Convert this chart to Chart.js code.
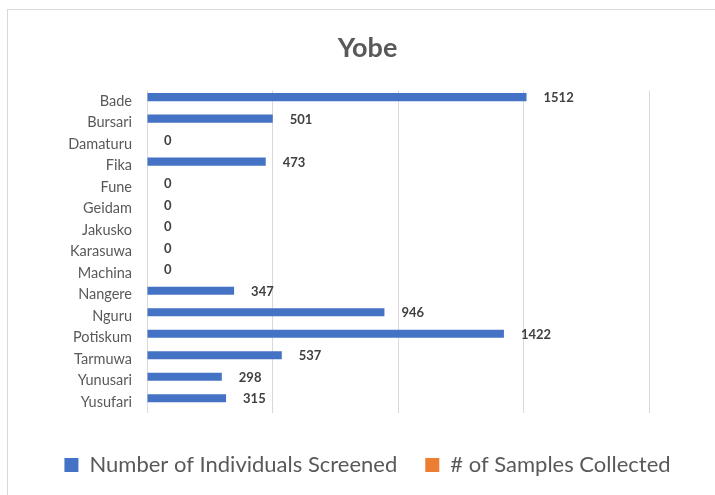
<!DOCTYPE html>
<html>
<head>
<meta charset="utf-8">
<script src="https://cdn.jsdelivr.net/npm/chart.js@4"></script>
<style>
  html, body { margin: 0; padding: 0; background: #fff; }
  #wrap { position: relative; width: 715px; height: 495px; overflow: hidden; }
  #frame { position: absolute; left: 7px; top: 9px; width: 720px; height: 500px; border: 1px solid #d9d9d9; }
  canvas { position: absolute; left: 0; top: 0; }
</style>
</head>
<body>
<div id="wrap">
  <div id="frame"></div>
  <canvas id="chart" width="715" height="495"></canvas>
</div>
<script>
// Yobe LGAs
const lgas = ['Bade', 'Bursari', 'Damaturu', 'Fika', 'Fune', 'Geidam', 'Jakusko', 'Karasuwa',
  'Machina', 'Nangere', 'Nguru', 'Potiskum', 'Tarmuwa', 'Yunusari', 'Yusufari'];
const screened = [1512, 501, 0, 473, 0, 0, 0, 0, 0, 347, 946, 1422, 537, 298, 315];
const samples = [0, 0, 0, 0, 0, 0, 0, 0, 0, 0, 0, 0, 0, 0, 0];
const xTicks = [0, 500, 1000, 1500, 2000];

const FONT = 'Lato, "Open Sans", sans-serif';

// value labels next to the blue bars
const barLabels = {
  id: 'barLabels',
  afterDatasetsDraw(chart) {
    const ctx = chart.ctx;
    const meta = chart.getDatasetMeta(0);
    ctx.save();
    ctx.font = 'bold 13px ' + FONT;
    ctx.fillStyle = '#404040';
    ctx.textAlign = 'left';
    ctx.textBaseline = 'middle';
    meta.data.forEach((bar, i) => {
      ctx.fillText(String(screened[i]), bar.x + 17, bar.y + 1);
    });
    ctx.restore();
  }
};

const ctx = document.getElementById('chart').getContext('2d');
new Chart(ctx, {
  type: 'bar',
  data: {
    labels: lgas,
    datasets: [
      { label: 'Number of Individuals Screened', data: screened, backgroundColor: '#4472C4', borderWidth: 0 },
      { label: '# of Samples Collected', data: samples, backgroundColor: '#ED7D31', borderWidth: 0 }
    ]
  },
  options: {
    indexAxis: 'y',
    responsive: false,
    animation: false,
    categoryPercentage: 0.75,
    barPercentage: 1.0,
    layout: { padding: { left: 20, right: 0, top: 23, bottom: 9 } },
    scales: {
      x: {
        min: 0,
        max: 2000,
        afterBuildTicks(axis) { axis.ticks = xTicks.map(v => ({ value: v })); },
        afterFit(axis) { axis.height = 13; },
        ticks: { display: false },
        grid: { color: '#d9d9d9', lineWidth: 1, drawTicks: false },
        border: { display: false }
      },
      y: {
        afterFit(axis) { axis.width = 127; },
        ticks: { color: '#595959', font: { size: 14.5, family: FONT }, padding: 7 },
        grid: { display: false },
        border: { display: false }
      },
      // empty spacer on the right so the title and legend center on the frame
      yRight: {
        type: 'category',
        position: 'right',
        afterFit(axis) { axis.width = 66; },
        ticks: { display: false },
        grid: { display: false },
        border: { display: false }
      }
    },
    plugins: {
      title: {
        display: true,
        text: 'Yobe',
        color: '#595959',
        font: { size: 27, weight: 'bold', family: FONT },
        padding: { top: 9, bottom: 26 }
      },
      legend: {
        position: 'bottom',
        labels: {
          color: '#595959',
          font: { size: 22, family: FONT },
          boxWidth: 14,
          boxHeight: 14,
          padding: 28
        }
      },
      tooltip: { enabled: false }
    }
  },
  plugins: [barLabels]
});
</script>
</body>
</html>
